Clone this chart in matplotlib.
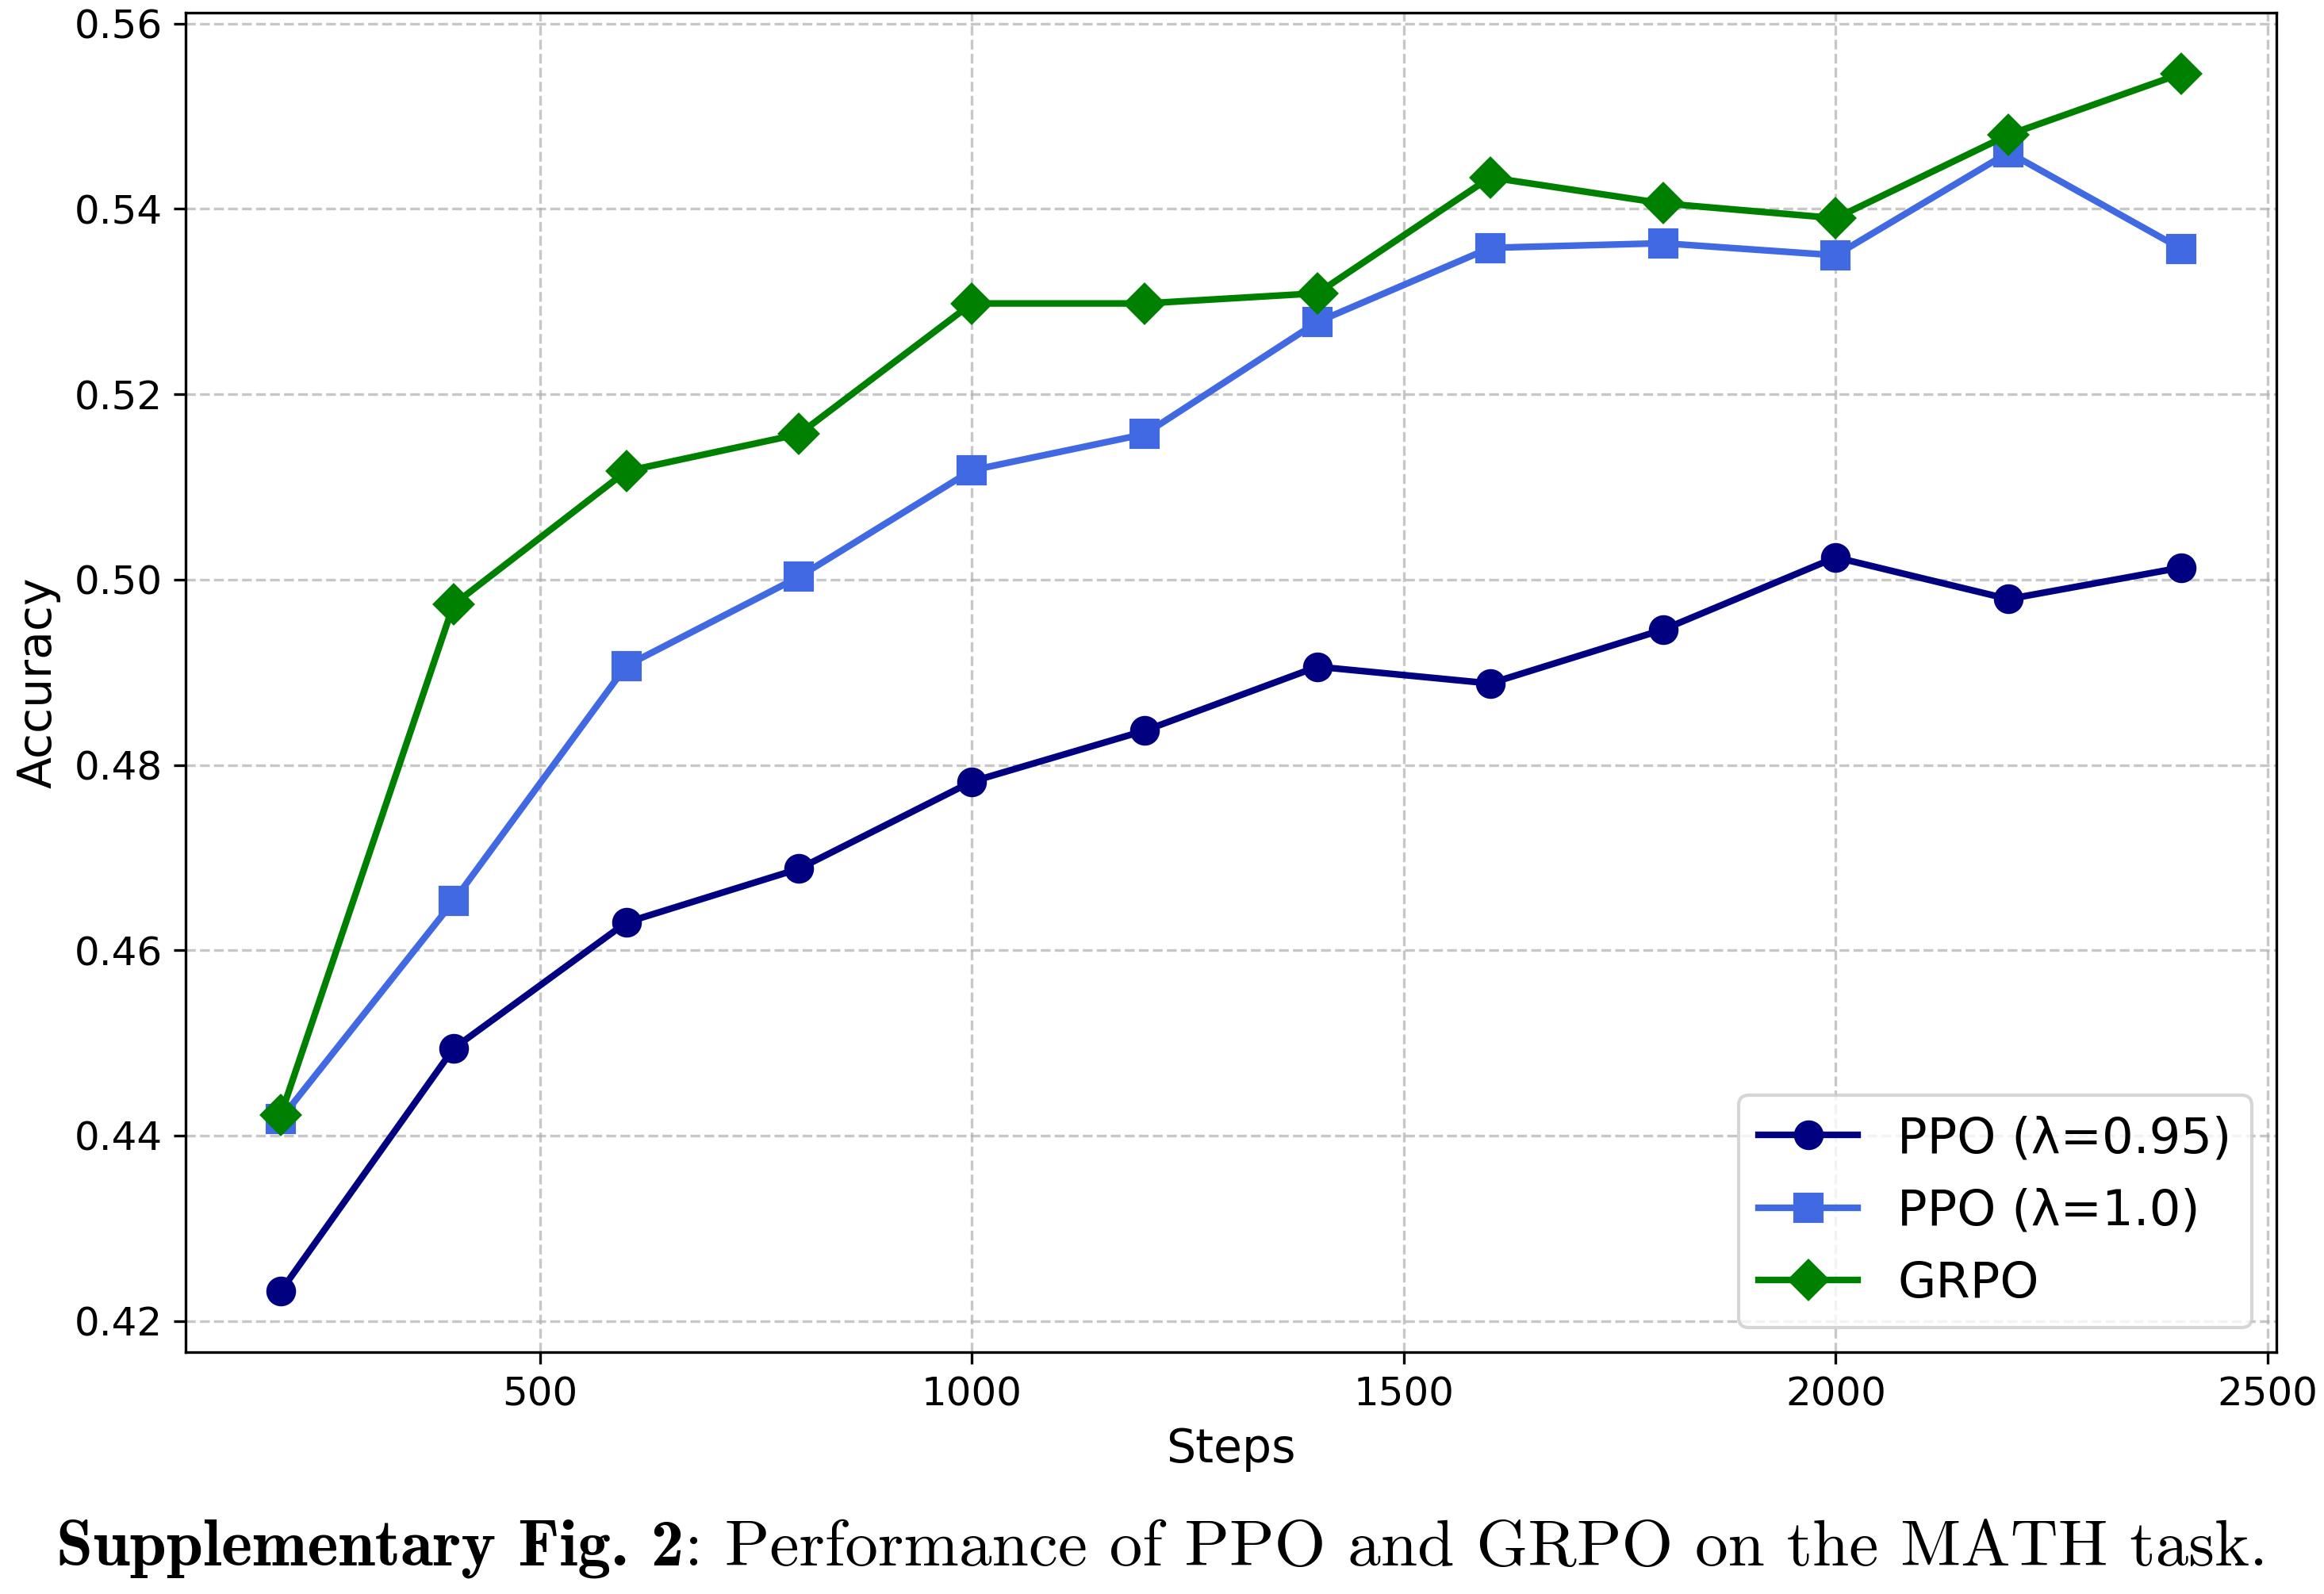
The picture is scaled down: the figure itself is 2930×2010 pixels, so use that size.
import numpy as np
import matplotlib
matplotlib.use("Agg")
import matplotlib.pyplot as plt

# Daten
steps = [200, 400, 600, 800, 1000, 1200, 1400, 1600, 1800, 2000, 2200, 2400]
ppo_095 = [0.4232, 0.4494, 0.4630, 0.4688, 0.4782, 0.4837, 0.4906, 0.4888,
           0.4946, 0.5024, 0.4979, 0.5013]
ppo_10 = [0.4418, 0.4653, 0.4907, 0.5003, 0.5118, 0.5157, 0.5278, 0.5358,
          0.5363, 0.5350, 0.5461, 0.5357]
grpo = [0.4422, 0.4973, 0.5117, 0.5157, 0.5298, 0.5298, 0.5309, 0.5434,
        0.5406, 0.5390, 0.5480, 0.5546]

labels = ['PPO (λ=0.95)', 'PPO (λ=1.0)', 'GRPO']

fig = plt.figure(figsize=(2930 / 300, 2010 / 300), dpi=300)
ax = fig.add_axes([0.0799, 0.1517, 0.8996, 0.8403])

ax.plot(steps, ppo_095, marker='o', color='navy', linewidth=2, markersize=8, label=labels[0])
ax.plot(steps, ppo_10, marker='s', color='royalblue', linewidth=2, markersize=8, label=labels[1])
ax.plot(steps, grpo, marker='D', color='green', linewidth=2, markersize=8, label=labels[2])

ax.set_xlabel('Steps', fontsize=14)
ax.set_ylabel('Accuracy', fontsize=14)
ax.tick_params(labelsize=12)
ax.grid(True, linestyle='--', alpha=0.7)
ax.legend(loc='lower right', fontsize=15)

# Bildunterschrift: fetter Teil + normaler Teil
cap_bold = 'Supplementary Fig. 2'
cap_rest = ': Performance of PPO and GRPO on the MATH task.'
fs = 20
y0 = 0.018
t1 = fig.text(0, y0, cap_bold, fontsize=fs, family='cmb10', va='baseline')
t2 = fig.text(0, y0, cap_rest, fontsize=fs, family='cmr10', va='baseline')
fig.canvas.draw()
r = fig.canvas.get_renderer()
w1 = t1.get_window_extent(r).width / fig.bbox.width
w2 = t2.get_window_extent(r).width / fig.bbox.width
x0 = 0.5 - (w1 + w2) / 2
t1.set_x(x0)
t2.set_x(x0 + w1)

fig.savefig('out.png', dpi=300)
